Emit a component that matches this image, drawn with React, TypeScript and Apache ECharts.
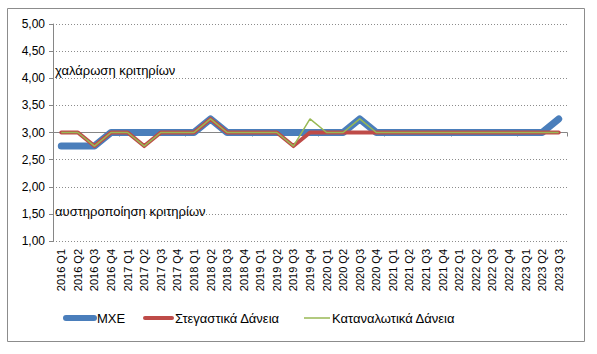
import React, { useEffect, useRef } from "react";
import * as echarts from "echarts";

const categories = [
  "2016 Q1", "2016 Q2", "2016 Q3", "2016 Q4",
  "2017 Q1", "2017 Q2", "2017 Q3", "2017 Q4",
  "2018 Q1", "2018 Q2", "2018 Q3", "2018 Q4",
  "2019 Q1", "2019 Q2", "2019 Q3", "2019 Q4",
  "2020 Q1", "2020 Q2", "2020 Q3", "2020 Q4",
  "2021 Q1", "2021 Q2", "2021 Q3", "2021 Q4",
  "2022 Q1", "2022 Q2", "2022 Q3", "2022 Q4",
  "2023 Q1", "2023 Q2", "2023 Q3",
];

const mxe = [
  2.75, 2.75, 2.75, 3.0,
  3.0, 3.0, 3.0, 3.0,
  3.0, 3.25, 3.0, 3.0,
  3.0, 3.0, 3.0, 3.0,
  3.0, 3.0, 3.25, 3.0,
  3.0, 3.0, 3.0, 3.0,
  3.0, 3.0, 3.0, 3.0,
  3.0, 3.0, 3.25,
];

const housing = [
  3.0, 3.0, 2.75, 3.0,
  3.0, 2.75, 3.0, 3.0,
  3.0, 3.25, 3.0, 3.0,
  3.0, 3.0, 2.75, 3.0,
  3.0, 3.0, 3.0, 3.0,
  3.0, 3.0, 3.0, 3.0,
  3.0, 3.0, 3.0, 3.0,
  3.0, 3.0, 3.0,
];

const consumer = [
  3.0, 3.0, 2.75, 3.0,
  3.0, 2.75, 3.0, 3.0,
  3.0, 3.25, 3.0, 3.0,
  3.0, 3.0, 2.75, 3.25,
  3.0, 3.0, 3.25, 3.0,
  3.0, 3.0, 3.0, 3.0,
  3.0, 3.0, 3.0, 3.0,
  3.0, 3.0, 3.0,
];

const seriesNames = ["ΜΧΕ", "Στεγαστικά Δάνεια", "Καταναλωτικά Δάνεια"];
const seriesColors = ["#4A7EBB", "#BE4B48", "#98B954"];
const seriesWidths = [7, 4, 1.5];
const annotations = ["χαλάρωση κριτηρίων", "αυστηροποίηση κριτηρίων"];

const FONT = "Liberation Sans";

export default function App() {
  const ref = useRef<HTMLDivElement>(null);
  useEffect(() => {
    document.body.style.margin = "0";
    const chart = echarts.init(ref.current!, undefined, { renderer: "svg" });
    const gridTop = 24;
    const gridBottomY = 241;
    const yMin = 1;
    const yMax = 5;
    const axisCrossY = gridBottomY - ((3 - yMin) / (yMax - yMin)) * (gridBottomY - gridTop);

    // manual legend layout
    const legendY = 318;
    const legendStarts = [66, 145, 304];
    const legendLen = [28, 27, 26];
    const legendGraphics: any[] = [];
    seriesNames.forEach((name, i) => {
      const x0 = legendStarts[i];
      legendGraphics.push({
        type: "line",
        shape: { x1: x0, y1: legendY, x2: x0 + legendLen[i], y2: legendY },
        style: {
          stroke: seriesColors[i],
          lineWidth: i === 0 ? 6 : seriesWidths[i],
          lineCap: i === 2 ? "butt" : "round",
        },
        silent: true,
      });
      legendGraphics.push({
        type: "text",
        x: x0 + legendLen[i] + (i === 2 ? 2 : 3),
        y: legendY,
        style: {
          text: name,
          fontSize: 13,
          fill: "#000",
          fontFamily: FONT,
          verticalAlign: "middle",
        },
        silent: true,
      });
    });

    chart.setOption({
      animation: false,
      textStyle: { fontFamily: FONT },
      grid: { left: 53, right: 30, top: gridTop, bottom: 354 - gridBottomY },
      xAxis: [
        {
          type: "category",
          data: categories,
          boundaryGap: true,
          axisLine: { show: false },
          axisTick: { show: false },
          axisLabel: {
            rotate: 90,
            interval: 0,
            fontSize: 11,
            color: "#000",
            margin: 8,
            fontFamily: FONT,
          },
        },
        {
          type: "category",
          data: categories,
          position: "bottom",
          offset: -(gridBottomY - axisCrossY),
          boundaryGap: true,
          axisLine: { show: true, lineStyle: { color: "#868686", width: 1 } },
          axisTick: { show: true, length: 4, lineStyle: { color: "#868686" } },
          axisLabel: { show: false },
        },
      ],
      yAxis: {
        type: "value",
        min: yMin,
        max: yMax,
        interval: 0.5,
        axisLine: { show: true, lineStyle: { color: "#868686" } },
        axisTick: { show: true, length: 4, lineStyle: { color: "#868686" } },
        axisLabel: {
          fontSize: 12,
          color: "#000",
          margin: 8,
          fontFamily: FONT,
          formatter: (v: number) => v.toFixed(2).replace(".", ","),
        },
        splitLine: {
          show: true,
          lineStyle: { color: "#8c8c8c", type: [1, 2], width: 1 },
        },
      },
      graphic: [
        {
          type: "rect",
          shape: { x: 7.5, y: 8.5, width: 577, height: 333 },
          style: { fill: "none", stroke: "#8c8c8c", lineWidth: 1 },
          silent: true,
        },
        {
          type: "text",
          x: 55,
          y: 64,
          style: { text: annotations[0], fontSize: 13, fill: "#000", fontFamily: FONT },
        },
        {
          type: "text",
          x: 55,
          y: 205,
          style: { text: annotations[1], fontSize: 13, fill: "#000", fontFamily: FONT },
        },
        ...legendGraphics,
      ],
      series: [
        {
          name: seriesNames[0],
          type: "line",
          data: mxe,
          symbol: "none",
          z: 2,
          lineStyle: { color: seriesColors[0], width: seriesWidths[0], cap: "round", join: "round" },
          itemStyle: { color: seriesColors[0] },
        },
        {
          name: seriesNames[1],
          type: "line",
          data: housing,
          symbol: "none",
          z: 3,
          lineStyle: { color: seriesColors[1], width: seriesWidths[1], cap: "round", join: "round" },
          itemStyle: { color: seriesColors[1] },
        },
        {
          name: seriesNames[2],
          type: "line",
          data: consumer,
          symbol: "none",
          z: 4,
          lineStyle: { color: seriesColors[2], width: seriesWidths[2] },
          itemStyle: { color: seriesColors[2] },
        },
      ],
    });
    return () => chart.dispose();
  }, []);
  return <div ref={ref} style={{ width: 597, height: 354 }} />;
}
